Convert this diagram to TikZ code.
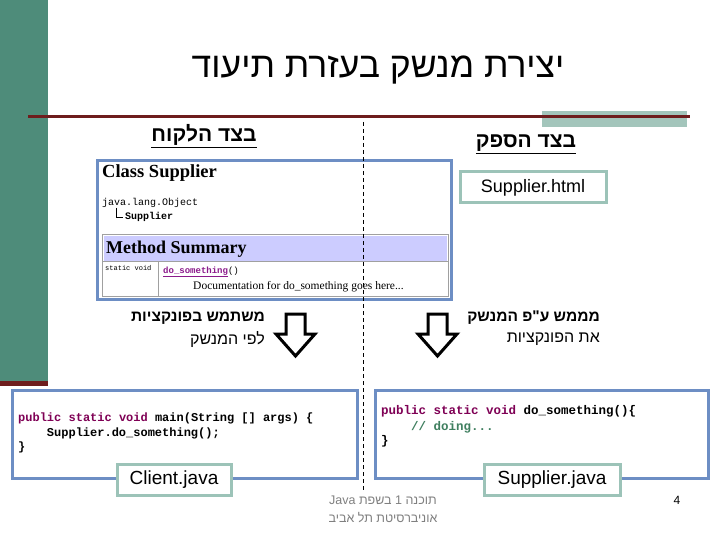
\documentclass[tikz,border=0pt]{standalone}
\usepackage{fontspec}
\setmainfont{Liberation Sans}
\newfontfamily\heb[Script=Hebrew]{Liberation Sans}
\newfontfamily\serifb{Liberation Serif}
\newfontfamily\monof{Liberation Mono}
\TeXXeTstate=1
\definecolor{greenbar}{HTML}{4E8C7A}
\definecolor{darkred}{HTML}{6E1D1D}
\definecolor{lightteal}{HTML}{A3C5BB}
\definecolor{boxblue}{HTML}{6D8EC4}
\definecolor{labelteal}{HTML}{9CC3B8}
\definecolor{lavender}{HTML}{CCCCFF}
\definecolor{tablegrey}{HTML}{A0A0A0}
\definecolor{kwpurple}{HTML}{7F0055}
\definecolor{linkpurple}{HTML}{8B1A8B}
\definecolor{cmtgreen}{HTML}{3F7F5F}
\definecolor{footgrey}{HTML}{808080}
\tikzset{
  txt/.style={inner sep=0pt, anchor=west},
  codebox/.style={draw=boxblue, line width=3pt, fill=white},
  filelabel/.style={draw=labelteal, line width=3pt, fill=white, inner sep=0pt, font=\fontsize{19}{22}\selectfont},
  bigarrow/.style={draw=black, line width=3pt, fill=white, line join=miter},
  codefont/.style={font=\monof\bfseries\fontsize{12}{14}\selectfont},
  hebtxt/.style={inner sep=0pt, anchor=east, font=\heb\fontsize{16}{19}\selectfont},
  hebbold/.style={hebtxt, font=\heb\bfseries\fontsize{15.5}{19}\selectfont},
  heading/.style={inner sep=0pt, font=\heb\bfseries\fontsize{21}{24}\selectfont},
}
\begin{document}
\begin{tikzpicture}[x=1pt,y=-1pt]
\useasboundingbox (0,0) rectangle (723,540);
\fill[white] (0,0) rectangle (723,540);
% decorations
\fill[greenbar] (0,0) rectangle (48,383);
\fill[darkred] (0,381) rectangle (48,386);
\fill[lightteal] (542,111) rectangle (687,127);
\draw[darkred, line width=3pt] (28,117) -- (690,117);
% title
\node[inner sep=0pt, font=\heb\fontsize{35.5}{40}\selectfont] (title) at (378,70) {\beginR יצירת מנשק בעזרת תיעוד\endR};
% headings
\node[heading] (hclient) at (204,136) {\underline{\beginR בצד הלקוח\endR}};
\node[heading] (hsupplier) at (526,144) {\underline{\beginR בצד הספק\endR}};
% documentation screenshot
\draw[codebox] (97,161) rectangle (451,299);
\node[txt, font=\serifb\bfseries\fontsize{18.5}{21}\selectfont] (classname) at (102,173) {Class Supplier};
\node[txt, font=\monof\fontsize{10}{12}\selectfont] (jlo) at (102,203) {java.lang.Object};
\draw[black, line width=0.8pt] (116,208) -- (116,217) -- (123,217);
\node[txt, font=\monof\bfseries\fontsize{10}{12}\selectfont] (supname) at (125,217) {Supplier};
\draw[tablegrey, line width=1pt] (102,235) rectangle (448,296);
\fill[lavender] (103.5,236.5) rectangle (446.5,261.5);
\draw[tablegrey, line width=1pt] (102,262) -- (448,262);
\draw[tablegrey, line width=1pt] (158,262) -- (158,296);
\node[txt, font=\serifb\bfseries\fontsize{18}{21}\selectfont] (msum) at (106,249) {Method Summary};
\node[txt, font=\monof\fontsize{7}{9}\selectfont] (sv) at (105,268) {static void};
\node[txt, font=\monof\bfseries\fontsize{9}{10}\selectfont, text=linkpurple] (dosome) at (163,272) {\underline{do\_something}\textcolor{black}{\mdseries()}};
\node[txt, font=\serifb\fontsize{11.5}{14}\selectfont] (docline) at (193,287) {Documentation for do\_something goes here...};
% Supplier.html label
\node[filelabel, minimum width=146pt, minimum height=31pt, font=\fontsize{18}{21}\selectfont] (html) at (533,187.5) {Supplier.html};
% dashed divider
\coordinate (dtop) at (363,122);
\coordinate (dbot) at (363,490);
\draw[black, line width=1pt, dash pattern=on 4pt off 3pt] (dtop) -- (dbot);
% arrows
\draw[bigarrow] (286,314) -- (305,314) -- (305,334) -- (315,334) -- (295.5,356) -- (276,334) -- (286,334) -- cycle;
\draw[bigarrow] (428,314) -- (447,314) -- (447,334) -- (457,334) -- (437.5,356) -- (418,334) -- (428,334) -- cycle;
\node[hebbold] (uses1) at (265,318) {\beginR משתמש בפונקציות\endR};
\node[hebtxt] (uses2) at (265,339) {\beginR לפי המנשק\endR};
\node[hebbold] (impl1) at (600,318) {\beginR מממש ע"פ המנשק\endR};
\node[hebtxt] (impl2) at (600,339) {\beginR את הפונקציות\endR};
% client code box
\draw[codebox] (12,390) rectangle (357,478);
\node[txt, codefont] (c1) at (18,418) {\textcolor{kwpurple}{public static void} main(String [] args) \{};
\node[txt, codefont] (c2) at (18,433) {\hspace*{28.8pt}Supplier.do\_something();};
\node[txt, codefont] (c3) at (18,447) {\}};
\node[filelabel, minimum width=114pt, minimum height=31pt] (client) at (174,479.5) {Client.java};
% supplier code box
\draw[codebox] (375,390) rectangle (708,478);
\node[txt, codefont, font=\monof\bfseries\fontsize{12.5}{14}\selectfont] (s1) at (381,411) {\textcolor{kwpurple}{public static void} do\_something()\{};
\node[txt, codefont, font=\monof\bfseries\fontsize{12.5}{14}\selectfont, text=cmtgreen] (s2) at (381,427) {\hspace*{30pt}// doing...};
\node[txt, codefont, font=\monof\bfseries\fontsize{12.5}{14}\selectfont] (s3) at (381,441) {\}};
\node[filelabel, minimum width=136pt, minimum height=31pt] (supjava) at (552,479.5) {Supplier.java};
% footer
\node[inner sep=0pt, text=footgrey, font=\heb\fontsize{12.5}{14}\selectfont] (foot1) at (383,500) {\beginR תוכנה 1 בשפת \beginL Java\endL\endR};
\node[inner sep=0pt, text=footgrey, font=\heb\fontsize{12.5}{14}\selectfont] (foot2) at (383,518) {\beginR אוניברסיטת תל אביב\endR};
\node[inner sep=0pt, font=\fontsize{12}{14}\selectfont] (pagenum) at (677,500) {4};
\end{tikzpicture}
\end{document}
